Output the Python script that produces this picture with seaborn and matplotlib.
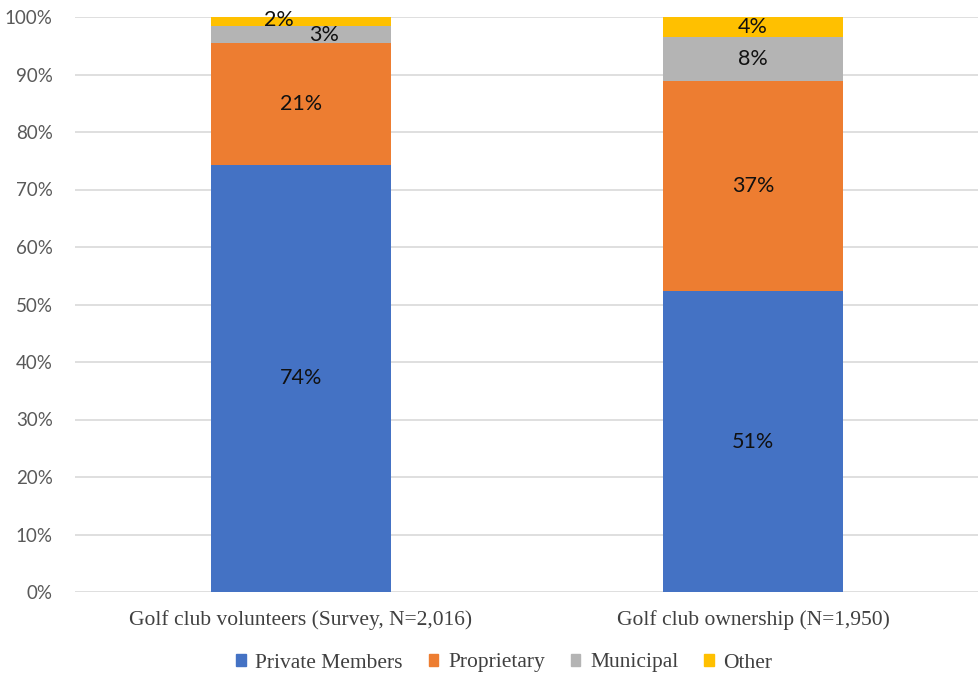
import numpy as np
import pandas as pd
import seaborn as sns
import matplotlib.pyplot as plt
from matplotlib.patches import Patch
from matplotlib.ticker import PercentFormatter

groups = ["Golf club volunteers (Survey, N=2,016)", "Golf club ownership (N=1,950)"]
types = ["Private Members", "Proprietary", "Municipal", "Other"]
private = [74.3, 52.3]
proprietary = [21.1, 36.6]
municipal = [3.1, 7.6]
other = [1.5, 3.5]
labels = [["74%", "21%", "3%", "2%"], ["51%", "37%", "8%", "4%"]]
colors = ["#4472C4", "#ED7D31", "#B4B4B4", "#FFC000"]

sns.set_style("white")

vals = np.array([private, proprietary, municipal, other])
tops = vals.cumsum(axis=0)

fig = plt.figure(figsize=(9.79, 6.76), dpi=100)
ax = fig.add_axes([75 / 979, 1 - 592 / 676, 1 - 75 / 979, (592 - 17) / 676])

# draw cumulative bars from the top segment down so they overlap into a stack
for i in range(len(types) - 1, -1, -1):
  df = pd.DataFrame({"group": groups, "top": tops[i]})
  sns.barplot(data=df, x="group", y="top", color=colors[i], width=0.4,
              saturation=1, linewidth=0, ax=ax, zorder=2)

# small labels on the thin first-bar segments are nudged sideways like the original
nudge = [[0, 0, 0.05, -0.05], [0, 0, 0, 0]]
for j in range(len(groups)):
  for i in range(len(types)):
    mid = tops[i][j] - vals[i][j] / 2
    if j == 0 and i == 3:
      mid += 0.3
    ax.text(j + nudge[j][i], mid, labels[j][i], ha="center", va="center",
            fontsize=15.5, family="Lato", color="#111111", zorder=3)

ax.set_ylim(0, 100)
ax.set_yticks(range(0, 101, 10))
ax.yaxis.set_major_formatter(PercentFormatter(decimals=0))
ax.yaxis.grid(True, color="#D9D9D9", linewidth=1.2, zorder=0)
ax.set_axisbelow(True)
sns.despine(ax=ax, left=True, bottom=True)
ax.set_xlabel("")
ax.set_ylabel("")
ax.tick_params(axis="both", length=0)
ax.tick_params(axis="y", pad=16, labelsize=13.5, labelcolor="#595959")
ax.tick_params(axis="x", pad=13, labelsize=15.5, labelcolor="#404040")
for t in ax.get_yticklabels():
  t.set_family("Lato")
for t in ax.get_xticklabels():
  t.set_family("Liberation Serif")

handles = [Patch(color=c, label=t) for c, t in zip(colors, types)]
fig.legend(handles=handles, loc="center", bbox_to_anchor=(0.515, 1 - 663 / 676),
           ncol=4, frameon=False, handlelength=0.45, handleheight=0.45,
           handletextpad=0.45, columnspacing=1.2,
           prop={"family": "Liberation Serif", "size": 15.5}, labelcolor="#404040")

plt.savefig("out.png", dpi=100)
